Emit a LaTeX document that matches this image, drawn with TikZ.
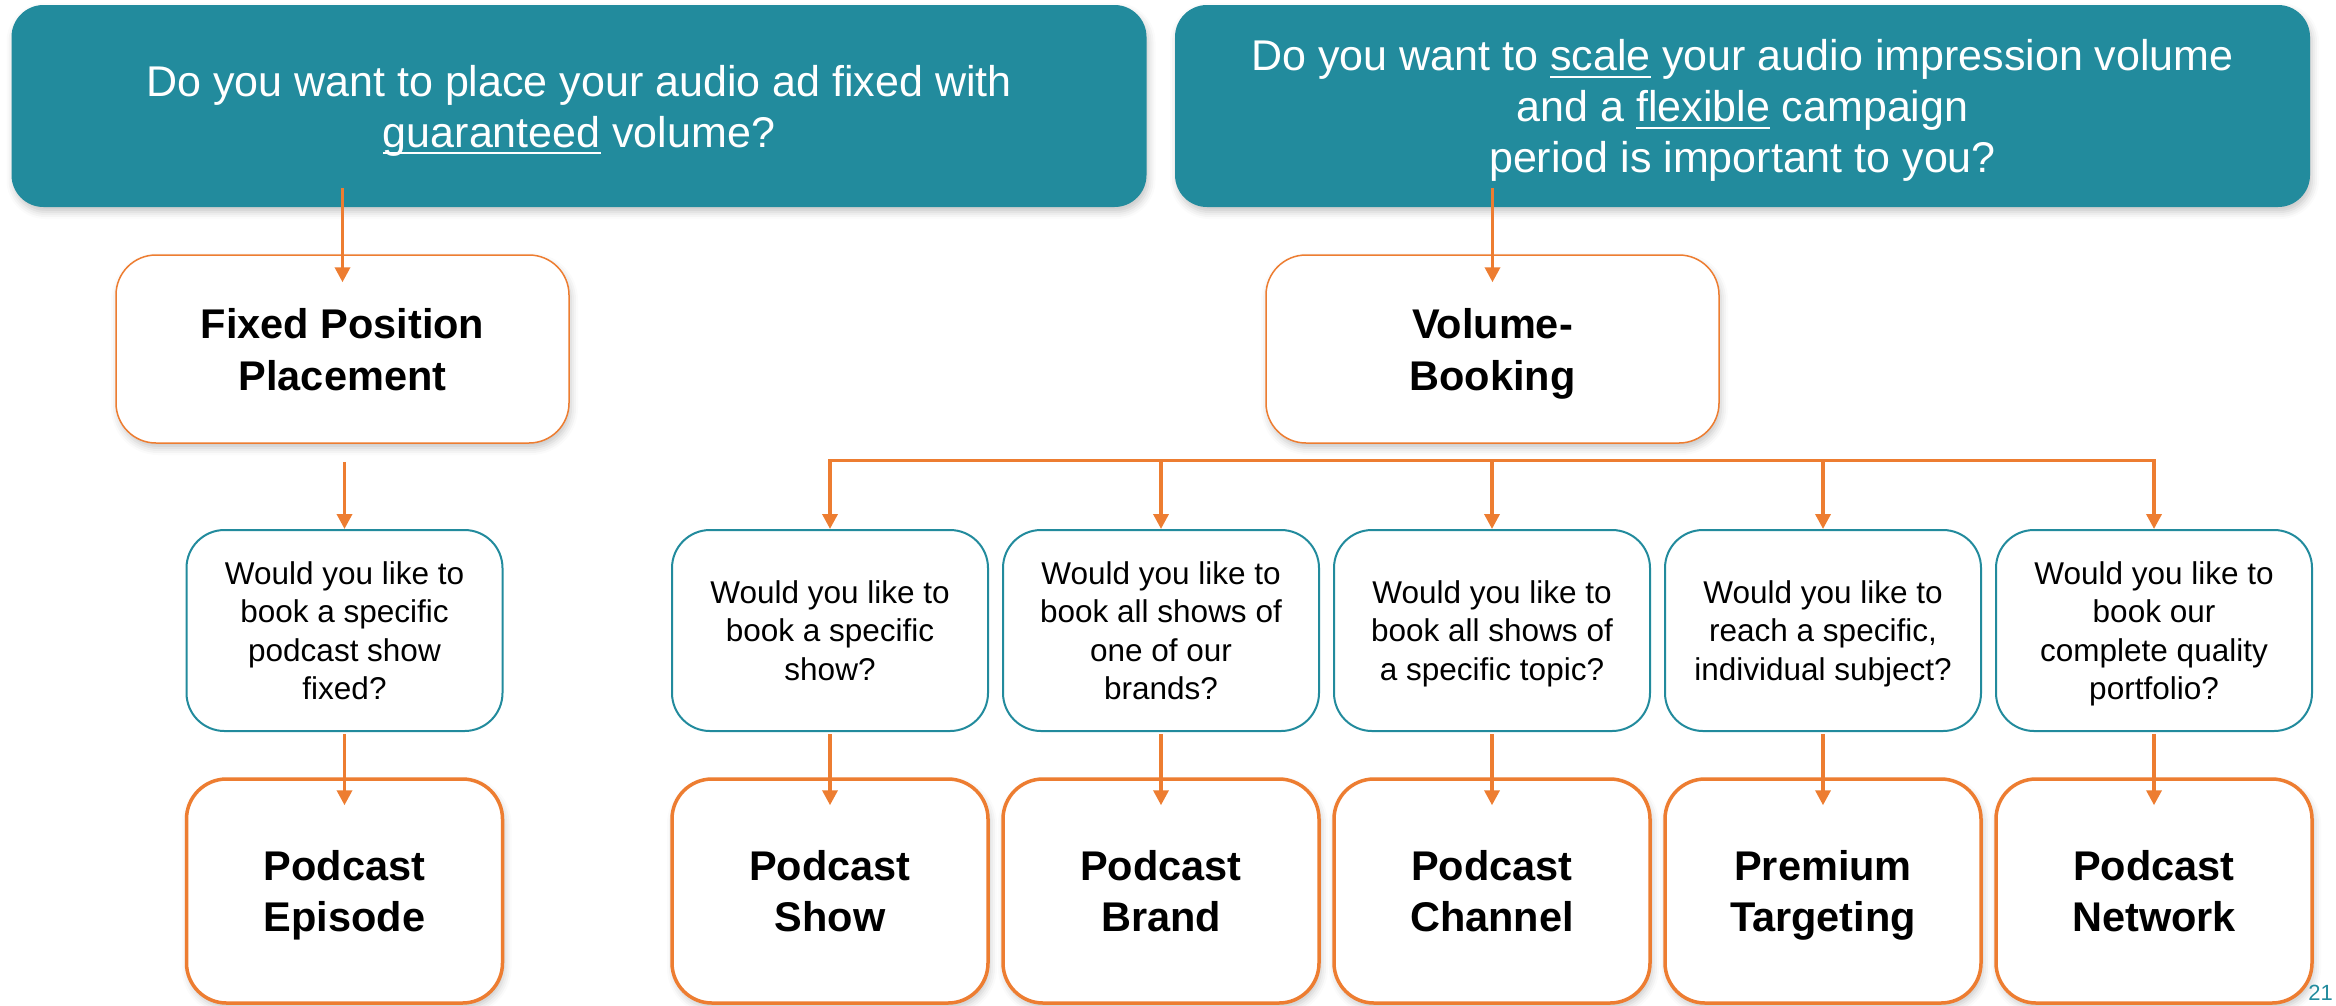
\documentclass[tikz,border=0pt]{standalone}
\usepackage{fontspec}
\setmainfont{Liberation Sans}
\usetikzlibrary{arrows.meta,shadows.blur}

\definecolor{petrol}{RGB}{34,139,157}
\definecolor{signal}{RGB}{237,125,49}

% Underlined word, the line sits just below the baseline (descenders cross it)
\newlength{\ulwd}
\newcommand{\ulword}[1]{\settowidth{\ulwd}{#1}\rlap{\rule[-0.165em]{\ulwd}{0.05em}}#1}

\begin{document}
\begin{tikzpicture}[x=1pt,y=-1pt,
    soft/.style={blur shadow={shadow xshift=2pt,shadow yshift=-5pt,shadow blur radius=7pt,shadow opacity=22}},
    % text depth is fixed, so that texts with and without descenders sit alike
    question/.style={rectangle,rounded corners=32pt,fill=petrol,text=white,align=center,
        minimum width=1135pt,minimum height=202pt,inner sep=0pt,soft,text depth=0pt,
        font=\fontsize{43}{51}\selectfont},
    product/.style={rectangle,rounded corners=40pt,draw=signal,line width=1.5pt,fill=white,
        align=center,minimum width=453pt,minimum height=188pt,inner sep=0pt,soft,
        text depth=0pt,font=\fontsize{41.5}{52}\selectfont\bfseries},
    ask/.style={rectangle,rounded corners=38pt,draw=petrol,line width=2pt,fill=white,
        align=center,minimum width=316pt,minimum height=201pt,inner sep=0pt,
        text depth=0pt,font=\fontsize{31.5}{38.3}\selectfont},
    offer/.style={product,line width=3.5pt,minimum width=316pt,minimum height=224pt,
        text depth=-3pt,font=\fontsize{41.5}{51}\selectfont\bfseries},
    link/.style={signal,line width=3.5pt,-{Triangle[width=15pt,length=15pt]}}]

    % Page size: the picture is laid out in pixels, y going down
    \useasboundingbox (0,0) rectangle (2336,1005);

    % The two starting questions:
    \node [question] (fixq) at (579,106)
        {Do you want to place your audio ad fixed with\\ \ulword{guaranteed} volume?};
    \node [question] (volq) at (1742.5,106)
        {Do you want to \ulword{scale} your audio impression volume\\
         and a \ulword{flexible} campaign\\ period is important to you?};

    % The two kinds of booking:
    \node [product] (fixed)  at (342.5,349)  {Fixed Position\\Placement};
    \node [product] (volume) at (1492.5,349) {Volume-\\Booking};

    % Fixed branch: one question, one product
    \node [ask]   (q-episode) at (344.5,630.5) {Would you like to\\book a specific\\podcast show\\fixed?};
    \node [offer] (p-episode) at (344.5,891)   {Podcast\\Episode};

    % Volume branch: five questions in a row, each with its product below
    \foreach \n/\q/\p [count=\i from 0] in {
        show/{Would you like to\\book a specific\\show?}/{Podcast\\Show},
        brand/{Would you like to\\book all shows of\\one of our\\brands?}/{Podcast\\Brand},
        channel/{Would you like to\\book all shows of\\a specific topic?}/{Podcast\\Channel},
        targeting/{Would you like to\\reach a specific,\\individual subject?}/{Premium\\Targeting},
        network/{Would you like to\\book our\\complete quality\\portfolio?}/{Podcast\\Network}}{%
        \node [ask]   (q-\n) at (830+331*\i,630.5) {\q};
        \node [offer] (p-\n) at (830+331*\i,891)   {\p};
        \draw [link] ([yshift=-2pt]q-\n.south) -- ([yshift=-28pt]p-\n.north);
    }

    % Arrows:
    % From the questions down into the booking boxes (the tips reach inside)
    \draw [link] ([yshift=19pt]fixq.south -| fixed.north) -- ([yshift=-28pt]fixed.north);
    \draw [link] ([yshift=19pt]volq.south -| volume.north) -- ([yshift=-28pt]volume.north);
    \draw [link] ([yshift=-18pt]fixed.south -| q-episode.north) -- (q-episode.north);
    \draw [link] ([yshift=-2pt]q-episode.south) -- ([yshift=-28pt]p-episode.north);

    % The bus below Volume-Booking, with its drops to the five questions
    \coordinate (bus) at ([yshift=-16.5pt]volume.south);
    \draw [link,{Triangle[width=15pt,length=15pt]}-{Triangle[width=15pt,length=15pt]}]
        (q-show.north) |- (bus) -| (q-network.north);
    \foreach \n in {brand,channel,targeting}
        \draw [link] (bus -| q-\n.north) -- (q-\n.north);

    % Page number
    \node [anchor=base east,inner sep=0pt,text=petrol,font=\fontsize{22}{22}\selectfont] (page) at (2333,1000) {21};
\end{tikzpicture}
\end{document}
